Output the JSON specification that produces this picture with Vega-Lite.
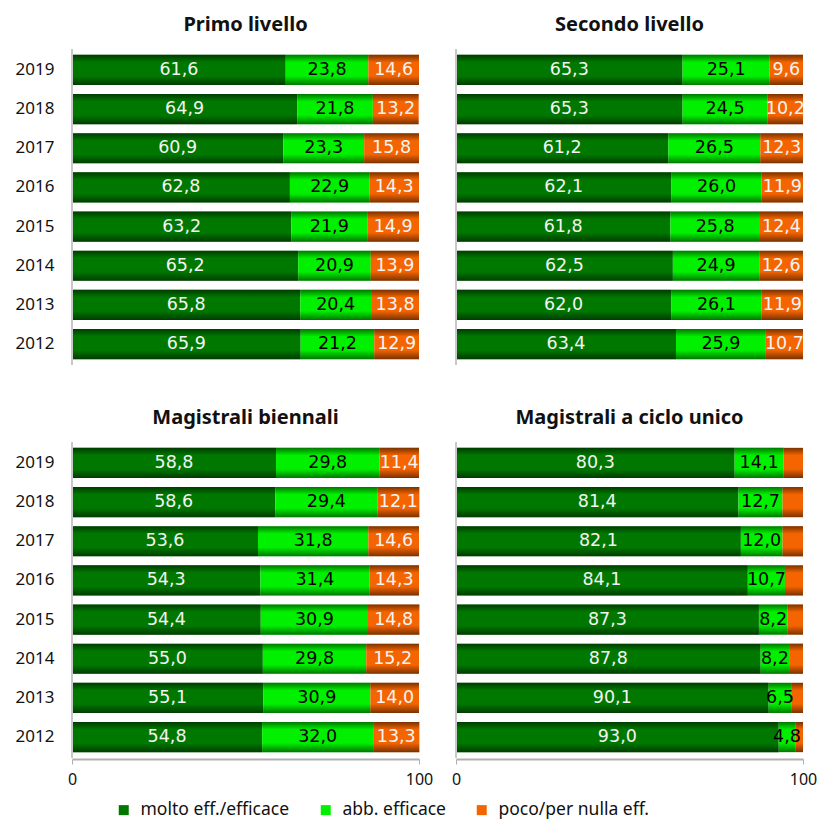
{
  "$schema": "https://vega.github.io/schema/vega-lite/v6.json",
  "padding": {"left": 15, "top": 15, "right": 4, "bottom": 2},
  "background": "white",
  "config": {
    "font": "Noto Sans",
    "view": {"stroke": null}
  },
  "data": {"values": [
    {"panel": "Primo livello", "year": "2019", "molto": 61.6, "abb": 23.8, "poco": 14.6},
    {"panel": "Primo livello", "year": "2018", "molto": 64.9, "abb": 21.8, "poco": 13.2},
    {"panel": "Primo livello", "year": "2017", "molto": 60.9, "abb": 23.3, "poco": 15.8},
    {"panel": "Primo livello", "year": "2016", "molto": 62.8, "abb": 22.9, "poco": 14.3},
    {"panel": "Primo livello", "year": "2015", "molto": 63.2, "abb": 21.9, "poco": 14.9},
    {"panel": "Primo livello", "year": "2014", "molto": 65.2, "abb": 20.9, "poco": 13.9},
    {"panel": "Primo livello", "year": "2013", "molto": 65.8, "abb": 20.4, "poco": 13.8},
    {"panel": "Primo livello", "year": "2012", "molto": 65.9, "abb": 21.2, "poco": 12.9},
    {"panel": "Secondo livello", "year": "2019", "molto": 65.3, "abb": 25.1, "poco": 9.6},
    {"panel": "Secondo livello", "year": "2018", "molto": 65.3, "abb": 24.5, "poco": 10.2},
    {"panel": "Secondo livello", "year": "2017", "molto": 61.2, "abb": 26.5, "poco": 12.3},
    {"panel": "Secondo livello", "year": "2016", "molto": 62.1, "abb": 26.0, "poco": 11.9},
    {"panel": "Secondo livello", "year": "2015", "molto": 61.8, "abb": 25.8, "poco": 12.4},
    {"panel": "Secondo livello", "year": "2014", "molto": 62.5, "abb": 24.9, "poco": 12.6},
    {"panel": "Secondo livello", "year": "2013", "molto": 62.0, "abb": 26.1, "poco": 11.9},
    {"panel": "Secondo livello", "year": "2012", "molto": 63.4, "abb": 25.9, "poco": 10.7},
    {"panel": "Magistrali biennali", "year": "2019", "molto": 58.8, "abb": 29.8, "poco": 11.4},
    {"panel": "Magistrali biennali", "year": "2018", "molto": 58.6, "abb": 29.4, "poco": 12.1},
    {"panel": "Magistrali biennali", "year": "2017", "molto": 53.6, "abb": 31.8, "poco": 14.6},
    {"panel": "Magistrali biennali", "year": "2016", "molto": 54.3, "abb": 31.4, "poco": 14.3},
    {"panel": "Magistrali biennali", "year": "2015", "molto": 54.4, "abb": 30.9, "poco": 14.8},
    {"panel": "Magistrali biennali", "year": "2014", "molto": 55.0, "abb": 29.8, "poco": 15.2},
    {"panel": "Magistrali biennali", "year": "2013", "molto": 55.1, "abb": 30.9, "poco": 14.0},
    {"panel": "Magistrali biennali", "year": "2012", "molto": 54.8, "abb": 32.0, "poco": 13.3},
    {"panel": "Magistrali a ciclo unico", "year": "2019", "molto": 80.3, "abb": 14.1, "poco": 5.6},
    {"panel": "Magistrali a ciclo unico", "year": "2018", "molto": 81.4, "abb": 12.7, "poco": 5.9},
    {"panel": "Magistrali a ciclo unico", "year": "2017", "molto": 82.1, "abb": 12.0, "poco": 5.9},
    {"panel": "Magistrali a ciclo unico", "year": "2016", "molto": 84.1, "abb": 10.7, "poco": 5.2},
    {"panel": "Magistrali a ciclo unico", "year": "2015", "molto": 87.3, "abb": 8.2, "poco": 4.5},
    {"panel": "Magistrali a ciclo unico", "year": "2014", "molto": 87.8, "abb": 8.2, "poco": 4.0},
    {"panel": "Magistrali a ciclo unico", "year": "2013", "molto": 90.1, "abb": 6.5, "poco": 3.4},
    {"panel": "Magistrali a ciclo unico", "year": "2012", "molto": 93.0, "abb": 4.8, "poco": 2.2}
  ]},
  "transform": [
    {"fold": ["molto", "abb", "poco"], "as": ["cat", "val"]},
    {"calculate": "indexof(['molto', 'abb', 'poco'], datum.cat)", "as": "ord"},
    {"stack": "val", "groupby": ["panel", "year"], "sort": [{"field": "ord", "order": "ascending"}], "as": ["x0", "x1"]},
    {"calculate": "(datum.x0 + datum.x1) / 2", "as": "xm"},
    {"calculate": "replace(format(datum.val, '.1f'), '.', ',')", "as": "lab"}
  ],
  "facet": {
    "field": "panel", "type": "nominal",
    "sort": ["Primo livello", "Secondo livello", "Magistrali biennali", "Magistrali a ciclo unico"],
    "header": {"title": null, "labelFontSize": 20, "labelFontWeight": "bold", "labelPadding": 13, "labelColor": "#111111"}
  },
  "columns": 2,
  "spacing": {"row": 42, "column": 34},
  "spec": {
    "width": 347,
    "height": 316,
    "layer": [
      {
        "mark": {"type": "bar"},
        "encoding": {
          "y": {"field": "year", "type": "ordinal", "sort": "descending",
            "scale": {"paddingInner": 0.23, "paddingOuter": 0.15},
            "axis": {"title": null, "domain": false, "ticks": false, "labelFontSize": 17, "labelPadding": 17, "labelColor": "#111111"}},
          "x": {"field": "x0", "type": "quantitative", "scale": {"domain": [0, 100], "nice": false},
            "axis": {"title": null, "values": [0, 100], "grid": false, "domainColor": "#b0b0b0", "domainWidth": 2, "tickColor": "#b0b0b0", "tickSize": 5, "labelFlush": false, "labelFontSize": 16, "labelPadding": 7, "labelColor": "#111111", "format": "d"}},
          "x2": {"field": "x1"},
          "color": {"field": "cat", "type": "nominal",
            "scale": {"domain": ["molto", "abb", "poco"], "range": ["#007800", "#00f000", "#f46400"]},
            "legend": {"title": null, "orient": "none", "legendX": 43, "legendY": 752, "direction": "horizontal", "symbolType": "square", "symbolSize": 100, "labelFontSize": 17.5, "labelLimit": 400, "labelOffset": 8, "labelColor": "#111111", "columnPadding": 27, "symbolStrokeWidth": 0,
              "labelExpr": "datum.label == 'molto' ? 'molto eff./efficace' : datum.label == 'abb' ? 'abb. efficace' : 'poco/per nulla eff.'"}}
        }
      },
      {
        "mark": {"type": "bar", "color": {"gradient": "linear", "x1": 0, "y1": 0, "x2": 0, "y2": 1,
          "stops": [{"offset": 0, "color": "rgba(0,0,0,0.5)"}, {"offset": 0.25, "color": "rgba(0,0,0,0)"}, {"offset": 0.7, "color": "rgba(0,0,0,0)"}, {"offset": 1, "color": "rgba(0,0,0,0.5)"}]}},
        "encoding": {
          "y": {"field": "year", "type": "ordinal", "sort": "descending"},
          "x": {"field": "x0", "type": "quantitative"},
          "x2": {"field": "x1"}
        }
      },
      {
        "mark": {"type": "rule", "color": "#c8c8c8", "strokeWidth": 2},
        "encoding": {"x": {"datum": 0}}
      },
      {
        "transform": [{"filter": "!(datum.panel == 'Magistrali a ciclo unico' && datum.cat == 'poco')"}],
        "mark": {"type": "text", "fontSize": 17.5, "font": "DejaVu Sans"},
        "encoding": {
          "y": {"field": "year", "type": "ordinal", "sort": "descending"},
          "x": {"field": "xm", "type": "quantitative"},
          "text": {"field": "lab", "type": "nominal"},
          "color": {"condition": {"test": "datum.cat == 'abb'", "value": "black"}, "value": "#f4f4f4"}
        }
      }
    ]
  }
}
